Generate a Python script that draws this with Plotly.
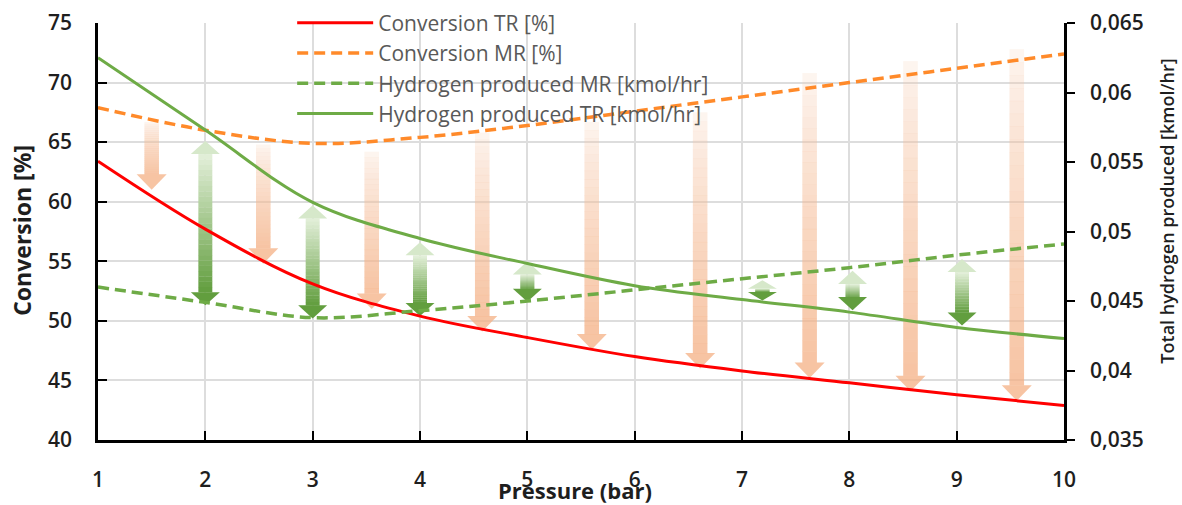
import plotly.graph_objects as go

# ---------------- data ----------------
PRESSURE = [1, 2, 3, 4, 5, 6, 7, 8, 9, 10]
CONVERSION_TR = [63.4, 57.7, 53.1, 50.4, 48.6, 47.0, 45.8, 44.8, 43.8, 42.9]
CONVERSION_MR = [67.9, 66.0, 64.9, 65.4, 66.4, 67.6, 68.8, 70.0, 71.2, 72.4]
H2_MR = [0.0460, 0.0449, 0.0438, 0.0443, 0.0450, 0.0458, 0.0466, 0.0474, 0.0483, 0.0491]
H2_TR = [0.0625, 0.0573, 0.0521, 0.0495, 0.0477, 0.0461, 0.0451, 0.0442, 0.0431, 0.0423]

X_TICKS = [1, 2, 3, 4, 5, 6, 7, 8, 9, 10]
Y_TICKS = [40, 45, 50, 55, 60, 65, 70, 75]
Y2_TICKVALS = [0.035, 0.040, 0.045, 0.050, 0.055, 0.060, 0.065]
Y2_TICKTEXT = ["0,035", "0,04", "0,045", "0,05", "0,055", "0,06", "0,065"]

# decorative arrows (in conversion-axis units)
ORANGE_ARROW_X = [1.50, 2.54, 3.55, 4.58, 5.60, 6.61, 7.63, 8.57, 9.56]
ORANGE_ARROW_TOP = [66.7, 64.8, 64.2, 65.8, 66.7, 67.5, 70.8, 71.8, 72.8]
ORANGE_ARROW_BOTTOM = [61.0, 54.8, 51.0, 49.1, 47.6, 46.0, 45.2, 44.1, 43.3]
GREEN_ARROW_X = [2.0, 3.0, 4.0, 5.0, 7.19, 8.03, 9.05]
GREEN_ARROW_TOP = [65.1, 59.7, 56.6, 55.0, 53.4, 54.2, 55.2]
GREEN_ARROW_BOTTOM = [51.3, 50.2, 50.4, 51.6, 51.7, 50.9, 49.6]

LEGEND_NAMES = ["Conversion TR [%]", "Conversion MR [%]",
                "Hydrogen produced MR [kmol/hr]", "Hydrogen produced TR [kmol/hr]"]
X_TITLE = "Pressure (bar)"
Y_TITLE = "Conversion [%]"
Y2_TITLE = "Total hydrogen produced [kmol/hr]"

FONT = "Open Sans, Segoe UI, DejaVu Sans, sans-serif"

fig = go.Figure()

fig.add_trace(go.Scatter(x=PRESSURE, y=CONVERSION_TR, name=LEGEND_NAMES[0], mode="lines",
                         line=dict(color="#FF0000", width=3, shape="spline")))
fig.add_trace(go.Scatter(x=PRESSURE, y=CONVERSION_MR, name=LEGEND_NAMES[1], mode="lines",
                         line=dict(color="#FF8A2A", width=3.5, dash="11px,6px", shape="spline")))
fig.add_trace(go.Scatter(x=PRESSURE, y=H2_MR, name=LEGEND_NAMES[2], mode="lines", yaxis="y2",
                         line=dict(color="#6EAB46", width=3.5, dash="11px,6px", shape="spline")))
fig.add_trace(go.Scatter(x=PRESSURE, y=H2_TR, name=LEGEND_NAMES[3], mode="lines", yaxis="y2",
                         line=dict(color="#6EAB46", width=3, shape="spline")))

# ---------------- arrows as shapes ----------------
shapes = []


def mix(c1, c2, t):
    return tuple(c1[i] + (c2[i] - c1[i]) * t for i in range(4))


def rgba(c):
    return "rgba(%d,%d,%d,%.3f)" % (c[0], c[1], c[2], c[3])


N = 26
# orange single-headed (down) arrows
O_TOP = (247, 205, 178, 0.14)
O_BOT = (244, 176, 132, 0.75)
o_shaft_hw = 0.068
o_head_hw = 0.14
o_head_h = 1.3
for x, top, bot in zip(ORANGE_ARROW_X, ORANGE_ARROW_TOP, ORANGE_ARROW_BOTTOM):
    y_end = bot + o_head_h
    span = top - y_end
    for i in range(N):
        y1 = top - span * i / N
        y0 = top - span * (i + 1) / N
        t = ((i + 0.5) / N) ** 0.6
        c = mix(O_TOP, O_BOT, t)
        shapes.append(dict(type="rect", xref="x", yref="y", x0=x - o_shaft_hw, x1=x + o_shaft_hw,
                           y0=y0 - 0.02, y1=y1, fillcolor=rgba(c), line=dict(width=0),
                           layer="between"))
    shapes.append(dict(type="path", xref="x", yref="y",
                       path="M %f,%f L %f,%f L %f,%f Z" % (x - o_head_hw, y_end, x + o_head_hw, y_end, x, bot),
                       fillcolor=rgba(O_BOT), line=dict(width=0), layer="between"))

# green double-headed arrows
G_TOP = (228, 240, 218, 1.0)
G_BOT = (98, 158, 62, 1.0)
g_shaft_hw = 0.065
g_head_hw = 0.135
for x, top, bot in zip(GREEN_ARROW_X, GREEN_ARROW_TOP, GREEN_ARROW_BOTTOM):
    hh = min(1.1, (top - bot) * 0.42)
    y_hi = top - hh
    y_lo = bot + hh
    span = y_hi - y_lo
    for i in range(N):
        y1 = y_hi - span * i / N
        y0 = y_hi - span * (i + 1) / N
        c = mix(G_TOP, G_BOT, (i + 0.5) / N)
        shapes.append(dict(type="rect", xref="x", yref="y", x0=x - g_shaft_hw, x1=x + g_shaft_hw,
                           y0=y0 - 0.02, y1=y1, fillcolor=rgba(c), line=dict(width=0),
                           layer="between"))
    shapes.append(dict(type="path", xref="x", yref="y",
                       path="M %f,%f L %f,%f L %f,%f Z" % (x - g_head_hw, y_hi, x + g_head_hw, y_hi, x, top),
                       fillcolor=rgba((214, 232, 202, 1.0)), line=dict(width=0), layer="between"))
    shapes.append(dict(type="path", xref="x", yref="y",
                       path="M %f,%f L %f,%f L %f,%f Z" % (x - g_head_hw, y_lo, x + g_head_hw, y_lo, x, bot),
                       fillcolor=rgba(G_BOT), line=dict(width=0), layer="between"))

tickfont = dict(family=FONT, size=21, color="#1E1E1E", weight=600)
titlefont = dict(family=FONT, size=23, color="#1E1E1E", weight="bold")

fig.update_layout(
    width=1182, height=505,
    margin=dict(l=98, r=118, t=23, b=65, autoexpand=False),
    plot_bgcolor="white", paper_bgcolor="white",
    shapes=shapes,
    showlegend=True,
    legend=dict(x=0.201, xanchor="left", y=1.049, yanchor="top",
                bgcolor="rgba(0,0,0,0)", traceorder="normal",
                itemwidth=76,
                font=dict(family=FONT, size=21, color="#595959")),
    xaxis=dict(range=[1, 10], tickvals=X_TICKS, showgrid=True, gridcolor="#DDDDDD", gridwidth=2,
               showline=True, linecolor="black", linewidth=2.5, ticks="inside", ticklen=9,
               tickwidth=2, tickcolor="black", tickfont=tickfont, ticklabelstandoff=19,
               zeroline=False, automargin=False),
    yaxis=dict(range=[40, 75], tickvals=Y_TICKS, showgrid=True, gridcolor="#DDDDDD", gridwidth=2,
               showline=True, linecolor="black", linewidth=2.5, ticks="inside", ticklen=9,
               tickwidth=2, tickcolor="black", tickfont=tickfont, ticklabelstandoff=19,
               zeroline=False, automargin=False),
    yaxis2=dict(range=[0.035, 0.065], overlaying="y", side="right", tickvals=Y2_TICKVALS,
                ticktext=Y2_TICKTEXT, showgrid=False, showline=True, linecolor="black",
                linewidth=2.5, ticks="outside", ticklen=8, tickwidth=2, tickcolor="black",
                tickfont=tickfont, ticklabelstandoff=11, zeroline=False, automargin=False),
    annotations=[
        dict(text=Y2_TITLE, xref="paper", yref="paper",
             x=1.1066, y=0.55, xanchor="center", yanchor="middle", textangle=-90,
             showarrow=False, font=dict(family=FONT, size=18, color="#1E1E1E", weight=600)),
        dict(text=Y_TITLE, xref="paper", yref="paper",
             x=-0.0787, y=0.504, xanchor="center", yanchor="middle", textangle=-90,
             showarrow=False, font=titlefont),
        dict(text=X_TITLE, xref="paper", yref="paper",
             x=0.494, y=-0.121, xanchor="center", yanchor="middle",
             showarrow=False, font=dict(family=FONT, size=22, color="#1E1E1E", weight="bold")),
    ],
)

fig.write_html("out.html")
